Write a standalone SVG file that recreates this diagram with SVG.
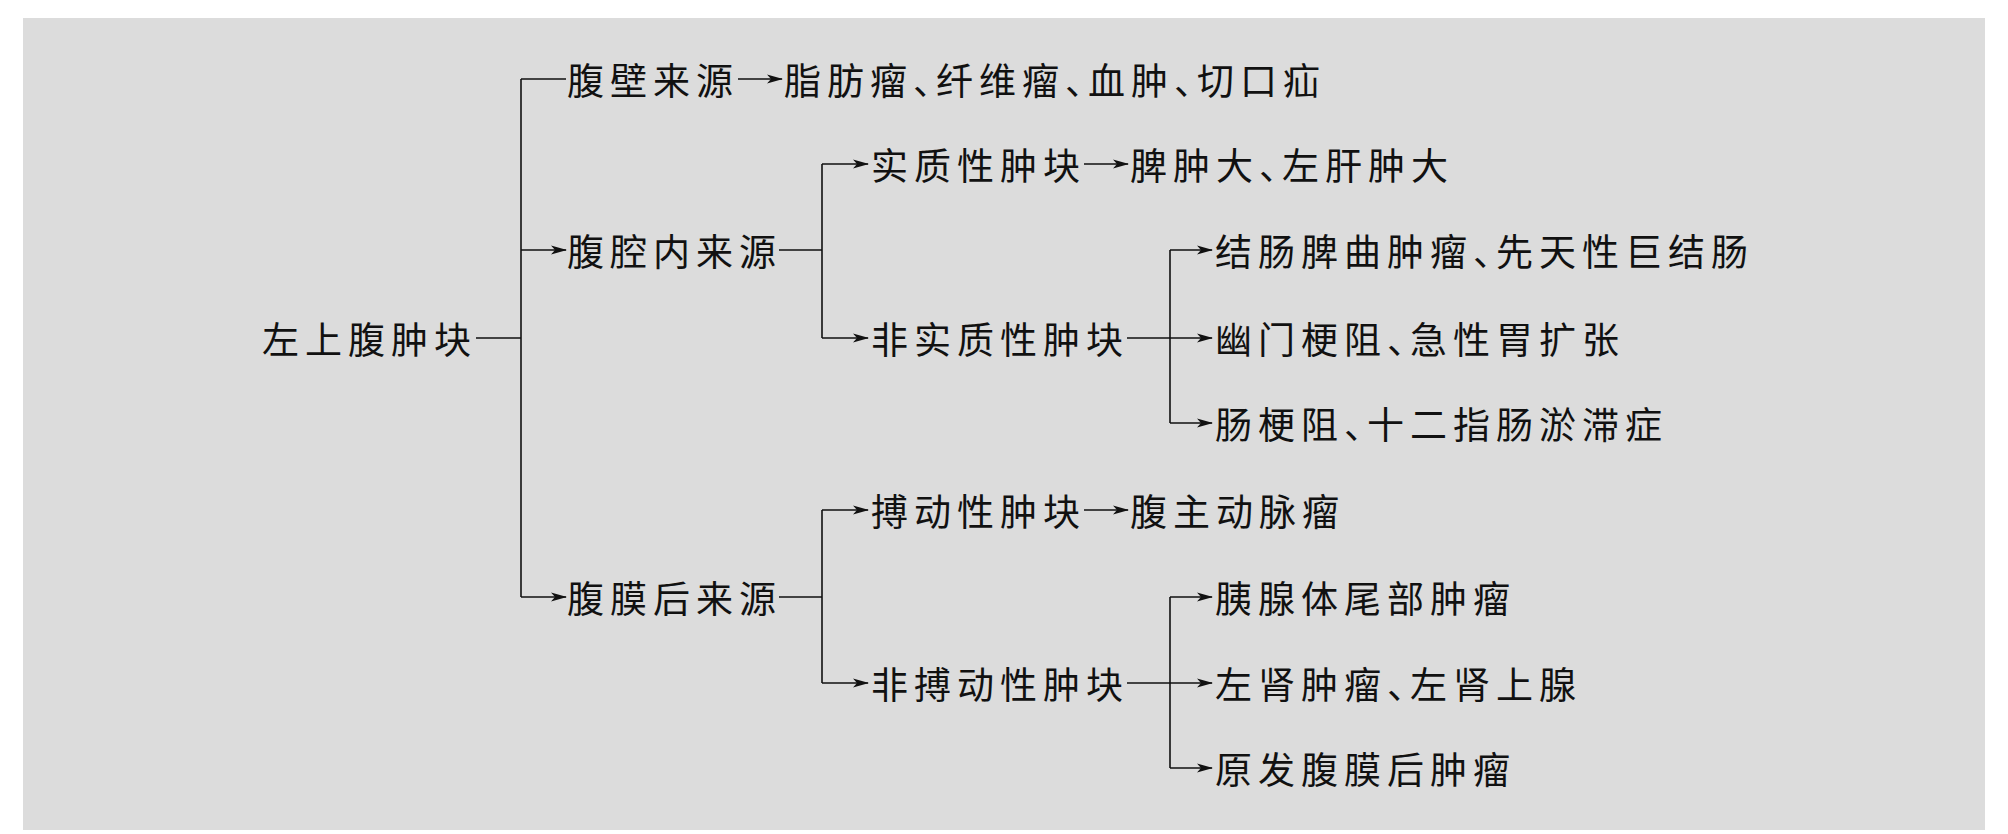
<svg xmlns="http://www.w3.org/2000/svg" width="2008" height="834" viewBox="0 0 2008 834">
<style>
text{font-family:"Noto Sans CJK SC","Noto Sans CJK JP",sans-serif;font-size:37px;letter-spacing:6px;fill:#111;dominant-baseline:central}
.p{letter-spacing:-14px}
.c line{stroke:#111;stroke-width:1.6;fill:none}
.a{marker-end:url(#ar)}
</style>
<defs><marker id="ar" markerWidth="16" markerHeight="12" refX="15" refY="6" orient="auto" markerUnits="userSpaceOnUse"><path d="M0,1.5 L16,6 L0,10.5 L4,6 Z" fill="#111"/></marker></defs>
<rect width="2008" height="834" fill="#fff"/>
<rect x="23" y="18" width="1962" height="812" fill="#dcdcdc"/>
<g class="c">
<line x1="476" y1="338" x2="521" y2="338"/>
<line x1="521" y1="79" x2="521" y2="597"/>
<line x1="521" y1="79" x2="566" y2="79"/>
<line class="a" x1="521" y1="250" x2="566" y2="250"/>
<line class="a" x1="521" y1="597" x2="566" y2="597"/>
<line class="a" x1="738" y1="79" x2="782" y2="79"/>
<line x1="779" y1="250" x2="822" y2="250"/>
<line x1="822" y1="164" x2="822" y2="338"/>
<line class="a" x1="822" y1="164" x2="868" y2="164"/>
<line class="a" x1="822" y1="338" x2="868" y2="338"/>
<line class="a" x1="1084" y1="164" x2="1128" y2="164"/>
<line x1="1127" y1="338" x2="1170" y2="338"/>
<line x1="1170" y1="250" x2="1170" y2="423"/>
<line class="a" x1="1170" y1="250" x2="1212" y2="250"/>
<line class="a" x1="1170" y1="338" x2="1212" y2="338"/>
<line class="a" x1="1170" y1="423" x2="1212" y2="423"/>
<line x1="779" y1="597" x2="822" y2="597"/>
<line x1="822" y1="510" x2="822" y2="683"/>
<line class="a" x1="822" y1="510" x2="868" y2="510"/>
<line class="a" x1="822" y1="683" x2="868" y2="683"/>
<line class="a" x1="1084" y1="510" x2="1128" y2="510"/>
<line x1="1127" y1="683" x2="1170" y2="683"/>
<line x1="1170" y1="597" x2="1170" y2="768"/>
<line class="a" x1="1170" y1="597" x2="1212" y2="597"/>
<line class="a" x1="1170" y1="683" x2="1212" y2="683"/>
<line class="a" x1="1170" y1="768" x2="1212" y2="768"/>
</g>
<g id="root"><text x="262" y="338">左上腹肿块</text></g>
<g id="n1"><text x="567" y="79">腹壁来源</text></g>
<g id="n1a"><text x="784" y="79">脂肪瘤<tspan class="p">、</tspan>纤维瘤<tspan class="p">、</tspan>血肿<tspan class="p">、</tspan>切口疝</text></g>
<g id="n2"><text x="567" y="250">腹腔内来源</text></g>
<g id="n2a"><text x="871" y="164">实质性肿块</text></g>
<g id="n2a1"><text x="1130" y="164">脾肿大<tspan class="p">、</tspan>左肝肿大</text></g>
<g id="n2b"><text x="871" y="338">非实质性肿块</text></g>
<g id="n2b1"><text x="1215" y="250">结肠脾曲肿瘤<tspan class="p">、</tspan>先天性巨结肠</text></g>
<g id="n2b2"><text x="1215" y="338">幽门梗阻<tspan class="p">、</tspan>急性胃扩张</text></g>
<g id="n2b3"><text x="1215" y="423">肠梗阻<tspan class="p">、</tspan>十二指肠淤滞症</text></g>
<g id="n3"><text x="567" y="597">腹膜后来源</text></g>
<g id="n3a"><text x="871" y="510">搏动性肿块</text></g>
<g id="n3a1"><text x="1130" y="510">腹主动脉瘤</text></g>
<g id="n3b"><text x="871" y="683">非搏动性肿块</text></g>
<g id="n3b1"><text x="1215" y="597">胰腺体尾部肿瘤</text></g>
<g id="n3b2"><text x="1215" y="683">左肾肿瘤<tspan class="p">、</tspan>左肾上腺</text></g>
<g id="n3b3"><text x="1215" y="768">原发腹膜后肿瘤</text></g>
</svg>
